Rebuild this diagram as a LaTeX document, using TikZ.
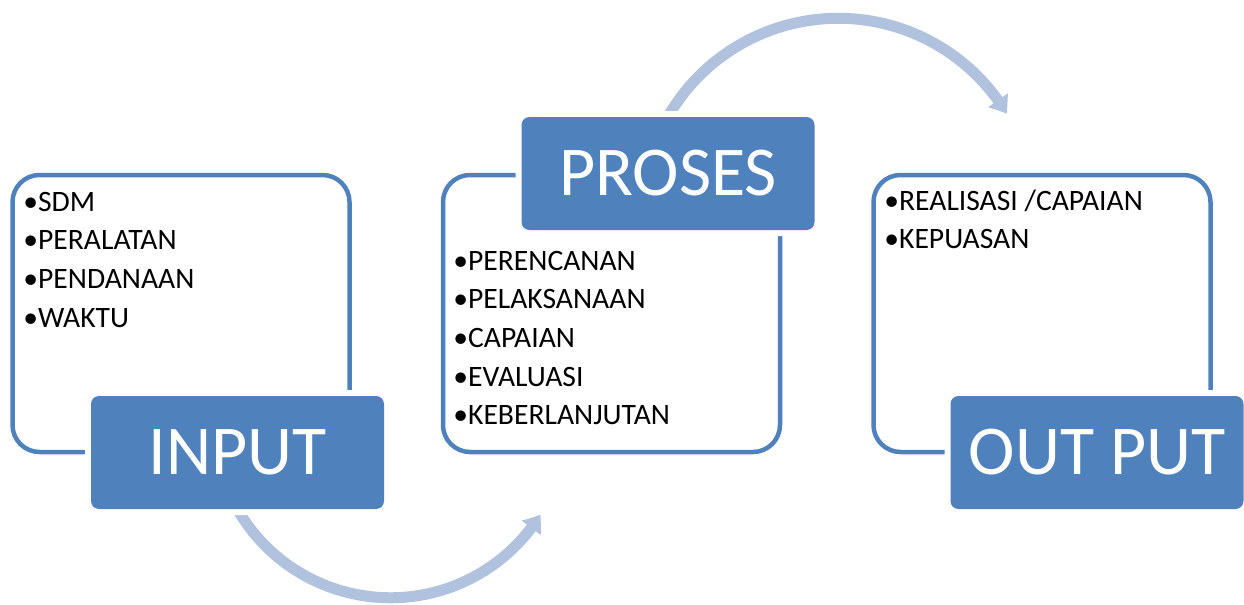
\documentclass[tikz,border=0pt]{standalone}
\usepackage{fontspec}
\setmainfont{Carlito}
\usetikzlibrary{arrows.meta,bending,backgrounds}

\definecolor{boxblue}{HTML}{4F81BD}
\definecolor{arcblue}{HTML}{B0C2DE}

\tikzset{
  panel/.style={draw=boxblue, line width=2.25pt, rounded corners=13.5pt,
    minimum width=168.5pt, minimum height=138.5pt, inner sep=0pt},
  titlebox/.style={fill=boxblue, rounded corners=4pt, minimum width=146.5pt,
    minimum height=56.5pt, inner sep=0pt, text=white,
    font=\fontsize{35}{42}\selectfont, preaction={draw=white, line width=6pt}},
  item/.style={anchor=base west, inner sep=0pt, font=\fontsize{14.8}{18}\selectfont},
  flow/.style={draw=arcblue, line width=5.5pt,
    -{Triangle[width=11.5pt,length=8pt,bend]}}
}

\begin{document}
\begin{tikzpicture}[x=0.5pt,y=-0.5pt]
\useasboundingbox (0,0) rectangle (1244,605);

% outline panels
\node[panel] (inpanel) at (181,313.5) {};
\node[panel] (propanel) at (611.5,313.5) {};
\node[panel] (outpanel) at (1042,313.5) {};

% title boxes
\node[titlebox] (intitle) at (237.5,452.5) {INPUT};
\node[titlebox] (protitle) at (668,173.5) {PROSES};
\node[titlebox] (outtitle) at (1097,452.5) {OUT PUT};

% input items
\node[item] (sdm) at (23,211) {•SDM};
\node[item] (alat) at (23,249.7) {•PERALATAN};
\node[item] (dana) at (23,288.4) {•PENDANAAN};
\node[item] (waktu) at (23,327.1) {•WAKTU};

% process items
\node[item] (rencana) at (453,270) {•PERENCANAN};
\node[item] (laksana) at (453,308.7) {•PELAKSANAAN};
\node[item] (capai) at (453,347.4) {•CAPAIAN};
\node[item] (evaluasi) at (453,386.1) {•EVALUASI};
\node[item] (lanjut) at (453,424.8) {•KEBERLANJUTAN};

% output items
\node[item] (realisasi) at (884,210) {•REALISASI /CAPAIAN};
\node[item] (puas) at (884,248.7) {•KEPUASAN};

% curved arrows behind the boxes
\begin{scope}[on background layer]
\draw[flow] (intitle.south) arc[start angle=150, end angle=32, radius=176.7];
\draw[flow] (protitle.north) arc[start angle=-150, end angle=-31, radius=196.6];
\end{scope}
\end{tikzpicture}
\end{document}
